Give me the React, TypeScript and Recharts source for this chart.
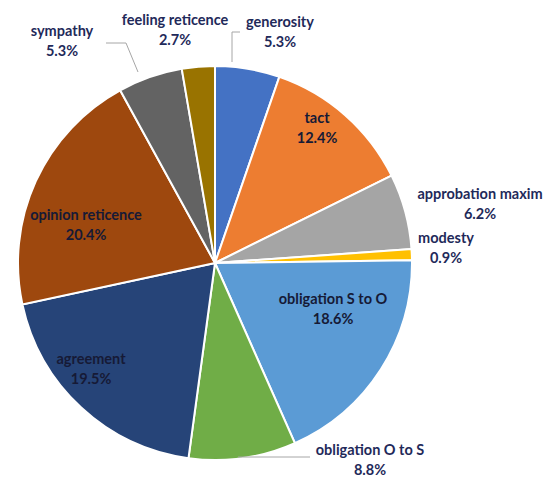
import { PieChart, Pie, Cell, type PieLabelRenderProps } from "recharts";

const names = [
  "generosity",
  "tact",
  "approbation maxim",
  "modesty",
  "obligation S to O",
  "obligation O to S",
  "agreement",
  "opinion reticence",
  "sympathy",
  "feeling reticence",
];
const shares = [5.3, 12.4, 6.2, 0.9, 18.6, 8.8, 19.5, 20.4, 5.3, 2.7];

const COLORS = [
  "#4472C4",
  "#ED7D31",
  "#A5A5A5",
  "#FFC000",
  "#5B9BD5",
  "#70AD47",
  "#264478",
  "#9E480E",
  "#636363",
  "#997300",
];

// label text placement relative to the pie centre, plus optional leader line
const LABEL_LAYOUT: { dx: number; dy: number; inside?: boolean; line?: [number, number][] }[] = [
  { dx: 70, dy: -231, line: [[22, -196], [22, -226], [30, -226]] },
  { dx: 107, dy: -135, inside: true },
  { dx: 270, dy: -59 },
  { dx: 236, dy: -15 },
  { dx: 123, dy: 46, inside: true },
  { dx: 160, dy: 197, line: [[28, 199], [100, 199]] },
  { dx: -119, dy: 106, inside: true },
  { dx: -124, dy: -38, inside: true },
  { dx: -148, dy: -222, line: [[-72, -186], [-84, -215], [-104, -215]] },
  { dx: -35, dy: -233 },
];

const data = names.map((name, i) => ({ name, value: shares[i] }));

const CX = 210;
const CY = 258;

const renderLabel = (props: PieLabelRenderProps) => {
  const index = props.index ?? 0;
  const lay = LABEL_LAYOUT[index];
  const x = CX + lay.dx;
  const y = CY + lay.dy;
  return (
    <g key={`lbl-${index}`}>
      {lay.line && (
        <polyline
          points={lay.line.map(([a, b]) => `${CX + a},${CY + b}`).join(" ")}
          fill="none"
          stroke="#A6A6A6"
          strokeWidth={1}
        />
      )}
      <text
        x={x}
        y={y}
        textAnchor="middle"
        fill={lay.inside ? "#161a36" : "#1F2A5A"}
        fontFamily="Lato, 'Open Sans', sans-serif"
        fontWeight={700}
        fontSize={14.5}
      >
        <tspan x={x} dy={0}>
          {names[index]}
        </tspan>
        <tspan x={x} dy={20}>
          {`${shares[index].toFixed(1)}%`}
        </tspan>
      </text>
    </g>
  );
};

export default function App() {
  return (
    <div style={{ position: "absolute", left: 0, top: 0, background: "#fff" }}>
      <PieChart width={547} height={477}>
        <Pie
          data={data}
          dataKey="value"
          cx={CX}
          cy={CY}
          outerRadius={197}
          startAngle={90}
          endAngle={-270}
          stroke="#ffffff"
          strokeWidth={2}
          labelLine={false}
          label={renderLabel}
          isAnimationActive={false}
        >
          {data.map((entry, index) => (
            <Cell key={`cell-${entry.name}`} fill={COLORS[index]} />
          ))}
        </Pie>
      </PieChart>
    </div>
  );
}
